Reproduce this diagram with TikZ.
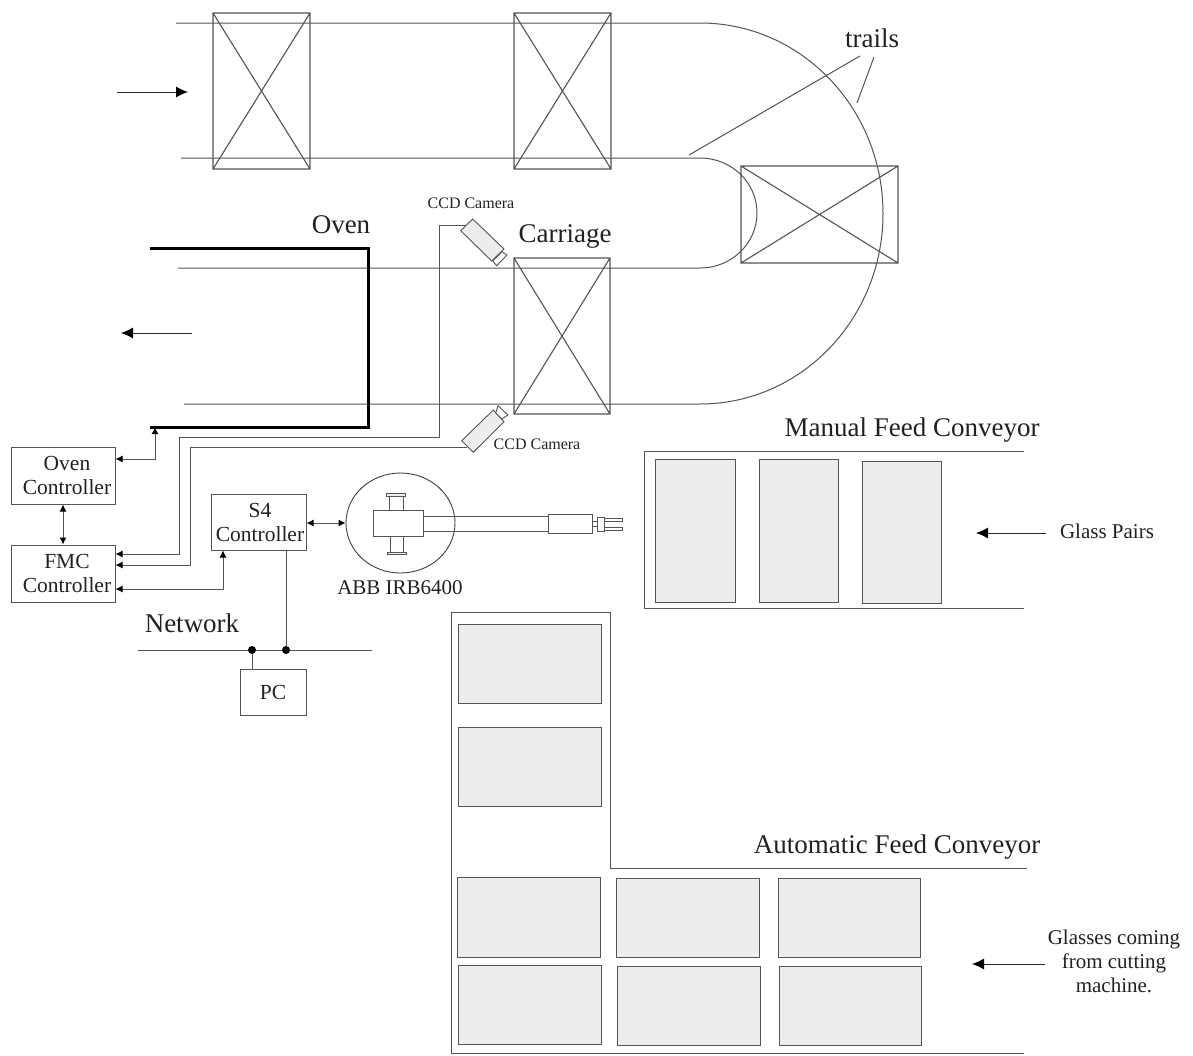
\documentclass[tikz,border=0pt]{standalone}
\usepackage{fontspec}
\setmainfont{Liberation Serif}
\usetikzlibrary{arrows.meta,shapes.geometric}
\definecolor{ln}{gray}{0.33}
\definecolor{tx}{gray}{0.13}
\definecolor{gl}{gray}{0.93}
\tikzset{
  wire/.style={draw=ln,line width=1pt},
  sig/.style={wire,{Latex[length=7pt,width=7pt,black]}-{Latex[length=7pt,width=7pt,black]}},
  sigin/.style={wire,-{Latex[length=7pt,width=7pt,black]}},
  flow/.style={draw=black!85,line width=0.9pt,-{Latex[length=12pt,width=11pt,black]}},
  glass/.style={draw=ln,fill=gl,line width=0.9pt},
  xbox/.style={draw=ln,line width=1.1pt},
  ctrl/.style={draw=ln,line width=1pt,fill=white,inner sep=0pt,align=center,text=tx,font=\fontsize{21.5}{24}\selectfont},
  lab/.style={text=tx,inner sep=0pt,font=\fontsize{27}{30}\selectfont},
  labsmall/.style={text=tx,inner sep=0pt,font=\fontsize{16}{18}\selectfont},
  labmid/.style={text=tx,inner sep=0pt,align=center,font=\fontsize{21}{24}\selectfont},
  dot/.style={circle,fill=black,inner sep=0pt,minimum size=8pt},
}
\newcommand{\xrect}[4]{\draw[xbox] (#1,#2) rectangle (#3,#4) (#1,#2) -- (#3,#4) (#1,#4) -- (#3,#2);}
\newcommand{\shr}{\hspace*{8pt}}
\begin{document}
\begin{tikzpicture}[x=1pt,y=-1pt]
\useasboundingbox[fill=white] (0,0) rectangle (1193,1055);
% trails
\draw[wire] (176,23) -- (700,23) .. controls (801.1,23) and (883,108.3) .. (883,213.5) .. controls (883,318.7) and (801.1,404) .. (700,404) -- (184,404);
\draw[wire] (181,158) -- (700,158) .. controls (731.5,158) and (757,182.6) .. (757,213) .. controls (757,243.4) and (731.5,268) .. (700,268) -- (178,268);
% carriages
\xrect{213}{13}{310}{169}
\xrect{514}{13}{611}{169}
\xrect{514}{258}{610}{414}
\xrect{741}{166}{898}{263}
% trail labels
\node[lab] (trails) at (872,38) {trails};
\coordinate (t1) at (689,155);
\coordinate (t2) at (857,103);
\draw[wire] (t1) -- (860,56);
\draw[wire] (874,57) -- (t2);
% oven
\draw[black,line width=3pt] (150,248) -- (368,248) -- (368,427) -- (150,427);
\coordinate (ovenbase) at (155,427);
\node[lab] (oven) at (341,225) {Oven};
\node[lab] (carriage) at (565,236) {Carriage};
% flow arrows
\coordinate (a1) at (117,92); \coordinate (a2) at (188,92);
\coordinate (b1) at (192,333); \coordinate (b2) at (121,333);
\coordinate (c1) at (1046,533); \coordinate (c2) at (976,533);
\coordinate (d1) at (1045,964); \coordinate (d2) at (972,964);
\draw[flow] (a1) -- (a2);
\draw[flow] (b1) -- (b2);
\draw[flow] (c1) -- (c2);
\draw[flow] (d1) -- (d2);
% cameras
\draw[glass] (472.7,219) -- (460.7,230.7) -- (491.7,261) -- (504,249) -- cycle;
\draw[draw=ln,fill=white,line width=0.9pt] (502,251.7) -- (507,255) -- (496.7,265.7) -- (492.7,261) -- cycle;
\draw[glass] (493.3,410) -- (461.7,440.7) -- (473.3,452.3) -- (504,421.7) -- cycle;
\draw[draw=ln,fill=white,line width=0.9pt] (495.7,413) -- (498,405.7) -- (508,415) -- (501.7,419) -- cycle;
\coordinate (cam1) at (466,225);
\coordinate (cam2) at (467,447);
\node[labsmall] (ccd1) at (471,203) {CCD Camera};
\node[labsmall] (ccd2) at (537,444) {CCD Camera};
% controllers
\node[ctrl,minimum width=104pt,minimum height=57pt] (ovenc) at (63,475.5) {\shr Oven\\\shr Controller};
\node[ctrl,minimum width=104pt,minimum height=57pt] (fmc) at (63,573.5) {\shr FMC\\\shr Controller};
\node[ctrl,minimum width=95pt,minimum height=56pt] (s4) at (258.5,522) {\hspace*{3pt}S4\\\hspace*{3pt}Controller};
\node[ctrl,minimum width=66pt,minimum height=46pt] (pc) at (273,692) {PC};
\node[lab] (network) at (192,623) {Network};
\draw[sig] (ovenc.east |- 0,459) -| (ovenbase);
\draw[sig] (ovenc.south) -- (fmc.north);
\draw[sigin] (cam1) -- (439,225) -- (439,437) -- (179,437) -- (179,554) -- (fmc.east |- 0,554);
\draw[sigin] (cam2) -- (190,447) -- (190,565) -- (fmc.east |- 0,565);
\draw[sig] (fmc.east |- 0,589) -| (s4.south -| 223,0);
% network
\coordinate (n1) at (138,650); \coordinate (n2) at (372,650);
\draw[wire] (n1) -- (n2);
\node[dot] (d1n) at (252,650) {};
\node[dot] (d2n) at (286,650) {};
\draw[wire] (d1n) -- (d1n |- pc.north);
\draw[wire] (d2n) -- (d2n |- s4.south);
% robot
\node[draw=black!75,line width=0.9pt,ellipse,minimum width=109pt,minimum height=100pt,inner sep=0pt] (robot) at (400.5,523) {};
\draw[sig] (s4.east |- 0,523) -- (robot.west);
\draw[draw=ln,line width=0.9pt] (423,516) -- (548,516) -- (548,531) -- (423,531);
\draw[draw=ln,line width=0.9pt] (389,496) -- (389,510) (403,496) -- (403,510);
\draw[draw=ln,line width=0.9pt] (390,536) -- (390,553) (403,536) -- (403,553);
\draw[draw=ln,fill=gl,line width=0.9pt] (386,493) rectangle (405,496);
\draw[draw=ln,fill=gl,line width=0.9pt] (387,552) rectangle (406,554.5);
\draw[draw=ln,fill=white,line width=1pt] (373,510) rectangle (423,536);
\draw[draw=ln,fill=white,line width=0.9pt] (548,514) rectangle (592,533);
\draw[draw=ln,line width=0.9pt] (592,521) -- (597,521) (592,526) -- (597,526);
\draw[draw=ln,fill=white,line width=0.9pt] (597,517) rectangle (604,531);
\draw[draw=ln,line width=0.9pt] (604,518) -- (622,518) -- (622,521) -- (604,521) (604,527) -- (622,527) -- (622,530) -- (604,530);
\node[lab,font=\fontsize{21}{24}\selectfont] (abb) at (400,588) {ABB IRB6400};
% manual conveyor
\draw[wire] (1024,451) -- (644,451) -- (644,608) -- (1024,608);
\draw[glass] (655,459) rectangle (735,602);
\draw[glass] (759,459) rectangle (838,602);
\draw[glass] (862,461) rectangle (941,603);
\node[lab] (manual) at (912,430) {Manual Feed Conveyor};
\node[labmid] (pairs) at (1107,531) {Glass Pairs};
% automatic conveyor
\draw[wire] (1024,1053) -- (451,1053) -- (451,612) -- (610,612) -- (610,868) -- (1027,868);
\draw[glass] (458,624) rectangle (601,703);
\draw[glass] (458,727) rectangle (601,806);
\draw[glass] (457,877) rectangle (600,957);
\draw[glass] (616,878) rectangle (759,957);
\draw[glass] (778,878) rectangle (920,957);
\draw[glass] (458,965) rectangle (601,1044);
\draw[glass] (617,966) rectangle (760,1045);
\draw[glass] (779,966) rectangle (921,1045);
\node[lab] (auto) at (897,847) {Automatic Feed Conveyor};
\node[labmid] (coming) at (1114,961) {Glasses coming\\from cutting\\machine.};
\end{tikzpicture}
\end{document}
